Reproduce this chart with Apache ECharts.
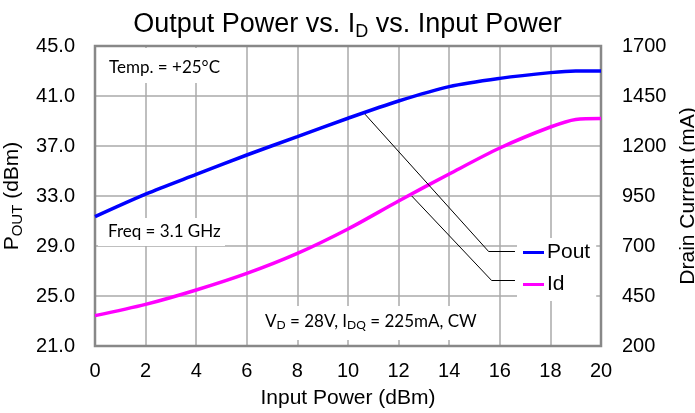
<!DOCTYPE html>
<html>
<head>
<meta charset="utf-8">
<script src="https://cdn.jsdelivr.net/npm/echarts@6/dist/echarts.min.js"></script>
<style>
html,body{margin:0;padding:0;background:#fff;}
#c{width:695px;height:413px;}
</style>
</head>
<body>
<div id="c"></div>
<script>
// ---- data ----
const inputPower = [0, 2, 4, 6, 8, 10, 12, 14, 16, 18, 19, 20];
const poutDbm    = [31.35, 33.15, 34.73, 36.28, 37.75, 39.22, 40.6, 41.75, 42.41, 42.87, 43.0, 43.0];
const idMa       = [352, 408, 480, 563, 663, 785, 925, 1060, 1190, 1295, 1333, 1338];
const xTicks     = [0, 2, 4, 6, 8, 10, 12, 14, 16, 18, 20];
const poutTicks  = [21.0, 25.0, 29.0, 33.0, 37.0, 41.0, 45.0];
const idTicks    = [200, 450, 700, 950, 1200, 1450, 1700];
// leader lines (data coordinates): curve point -> elbow -> legend
const poutLeader = [[10.67, 39.55], [15.55, 28.58], [16.6, 28.58]];
const idLeader   = [[12.52, 950], [15.68, 527], [16.6, 527]];

const poutBase = poutTicks[0];   // axis offset so ticks start at the axis minimum
const idBase = idTicks[0];
const poutStep = poutTicks[1] - poutTicks[0];
const idStep = idTicks[1] - idTicks[0];

const AX = 'Liberation Sans, Arial, sans-serif';
const NOTE = 'Lato, Open Sans, sans-serif';

function legPairs(pts, base) {
  const out = [];
  for (let i = 0; i < pts.length - 1; i++) {
    out.push([{coord: [pts[i][0], pts[i][1] - base]}, {coord: [pts[i+1][0], pts[i+1][1] - base]}]);
  }
  return out;
}

const chart = echarts.init(document.getElementById('c'), null, {renderer: 'canvas'});
chart.setOption({
  animation: false,
  backgroundColor: '#fff',
  title: {
    text: 'Output Power vs. I{sub|D} vs. Input Power',
    left: 'center', top: 4,
    textStyle: {
      fontFamily: AX, fontSize: 27, fontWeight: 'normal', color: '#000',
      rich: {sub: {fontFamily: AX, fontSize: 18, verticalAlign: 'bottom', padding: [14, 0, 0, 0], color: '#000'}}
    }
  },
  grid: {left: 95, right: 94, top: 46, bottom: 67, containLabel: false, outerBoundsMode: 'none',
    show: true, borderColor: '#888', borderWidth: 2.5, z: 3, backgroundColor: 'transparent'},
  legend: {
    orient: 'vertical', left: 517, top: 238,
    backgroundColor: '#fff', padding: [4, 6, 6, 6],
    itemWidth: 21, itemHeight: 3, itemGap: 11, icon: 'rect',
    textStyle: {fontFamily: AX, fontSize: 21, color: '#000', padding: [0, 0, 0, -2], lineHeight: 21},
    data: ['Pout', 'Id']
  },
  xAxis: {
    type: 'value', min: xTicks[0], max: xTicks[xTicks.length - 1], interval: xTicks[1] - xTicks[0],
    name: 'Input Power (dBm)', nameLocation: 'middle', nameGap: 42,
    nameTextStyle: {fontFamily: AX, fontSize: 21, color: '#000'},
    axisLine: {show: false}, axisTick: {show: false},
    axisLabel: {fontFamily: AX, fontSize: 20, color: '#000', margin: 15},
    splitLine: {show: true, lineStyle: {color: '#aaa', width: 1.5}}
  },
  yAxis: [{
    type: 'value', position: 'left',
    min: 0, max: poutTicks[poutTicks.length - 1] - poutBase, interval: poutStep,
    name: 'P{sub|OUT} (dBm)', nameLocation: 'middle', nameGap: 66,
    nameTextStyle: {fontFamily: AX, fontSize: 21, color: '#000',
      rich: {sub: {fontFamily: AX, fontSize: 15, color: '#000', verticalAlign: 'bottom', padding: [10, 0, 0, 0]}}},
    axisLine: {show: false}, axisTick: {show: false},
    axisLabel: {fontFamily: AX, fontSize: 20, color: '#000', margin: 20,
      formatter: v => (v + poutBase).toFixed(1)},
    splitLine: {show: true, lineStyle: {color: '#aaa', width: 1.5}}
  }, {
    type: 'value', position: 'right',
    min: 0, max: idTicks[idTicks.length - 1] - idBase, interval: idStep,
    name: 'Drain Current (mA)', nameLocation: 'middle', nameGap: 72,
    nameTextStyle: {fontFamily: AX, fontSize: 21, color: '#000'},
    axisLine: {show: false}, axisTick: {show: false},
    axisLabel: {fontFamily: AX, fontSize: 20, color: '#000', margin: 21,
      formatter: v => String(v + idBase)},
    splitLine: {show: false}
  }],
  series: [{
    name: 'Pout', type: 'line', yAxisIndex: 0,
    data: inputPower.map((x, i) => [x, poutDbm[i] - poutBase]),
    smooth: 0.3, showSymbol: false, symbol: 'none',
    lineStyle: {color: '#0000ff', width: 3.5}, itemStyle: {color: '#0000ff'},
    markLine: {silent: true, symbol: 'none', label: {show: false}, animation: false,
      lineStyle: {color: '#000', width: 1, type: 'solid'}, emphasis: {disabled: true},
      data: legPairs(poutLeader, poutBase)}
  }, {
    name: 'Id', type: 'line', yAxisIndex: 1,
    data: inputPower.map((x, i) => [x, idMa[i] - idBase]),
    smooth: 0.3, showSymbol: false, symbol: 'none',
    lineStyle: {color: '#ff00ff', width: 3.5}, itemStyle: {color: '#ff00ff'},
    markLine: {silent: true, symbol: 'none', label: {show: false}, animation: false,
      lineStyle: {color: '#000', width: 1, type: 'solid'}, emphasis: {disabled: true},
      data: legPairs(idLeader, idBase)}
  }],
  graphic: [
    {type: 'rect', z: 1, silent: true, shape: {x: 98, y: 48, width: 128, height: 35}, style: {fill: '#fff'}},
    {type: 'text', z: 1, silent: true, left: 109, top: 59,
      style: {text: 'Temp. = +25°C', font: '17px ' + NOTE, fill: '#000'}},
    {type: 'rect', z: 1, silent: true, shape: {x: 98, y: 218, width: 127, height: 28}, style: {fill: '#fff'}},
    {type: 'text', z: 1, silent: true, left: 108, top: 223,
      style: {text: 'Freq = 3.1 GHz', font: '17px ' + NOTE, fill: '#000'}},
    {type: 'rect', z: 1, silent: true, shape: {x: 253, y: 306, width: 232, height: 34}, style: {fill: '#fff'}},
    {type: 'text', z: 1, silent: true, left: 265, top: 313,
      style: {text: 'V{s|D} = 28V, I{s|DQ} = 225mA, CW', font: '17px ' + NOTE, fill: '#000',
        rich: {s: {font: '12px ' + NOTE, fill: '#000', verticalAlign: 'bottom', padding: [8, 0, 0, 0]}}}}
  ]
});
</script>
</body>
</html>
